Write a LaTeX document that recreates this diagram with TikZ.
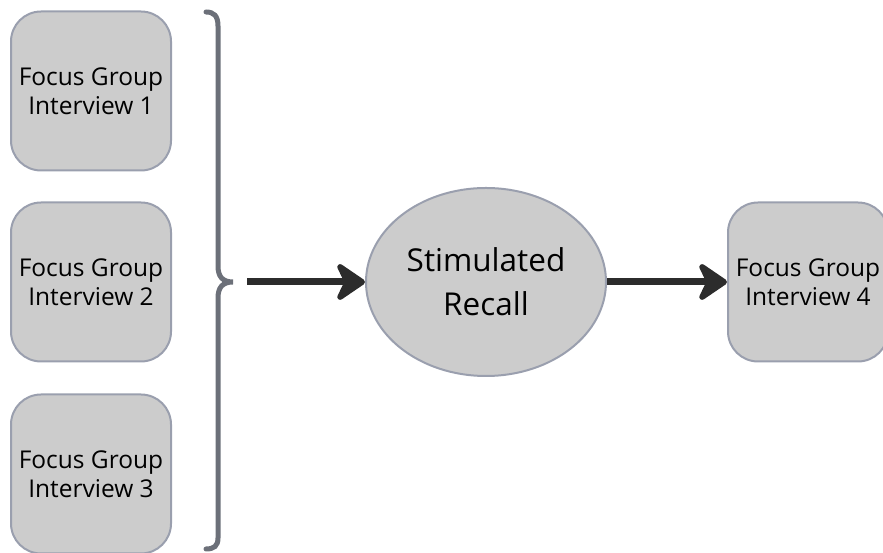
\documentclass[tikz,border=0pt]{standalone}
\usepackage{fontspec}
\setmainfont{Open Sans}
\usetikzlibrary{positioning, arrows.meta, shapes.geometric}

\definecolor{boxfill}{HTML}{CCCCCC}
\definecolor{boxline}{HTML}{9A9FAE}
\definecolor{braceline}{HTML}{6C7079}
\definecolor{arrowline}{HTML}{2C2C2C}

\tikzset{
	interview/.style={fill=boxfill,draw=boxline,line width=2pt,rounded corners=30pt,minimum width=160pt,minimum height=159pt,align=center,font=\fontsize{24.5}{29}\selectfont},
	recall/.style={ellipse,fill=boxfill,draw=boxline,line width=2pt,minimum width=240pt,minimum height=188pt,align=center,font=\fontsize{31.5}{44}\selectfont},
	flow/.style={-{Stealth[length=34pt,width=46pt,inset=11pt,round]},line width=7pt,draw=arrowline}
}

\begin{document}
\begin{tikzpicture}[x=1pt,y=1pt]
	\useasboundingbox (0,0) rectangle (883,553);
	\node (fg1) at (91,462) [interview] {Focus Group\\Interview 1};
	\node (fg2) at (91,271) [interview] {Focus Group\\Interview 2};
	\node (fg3) at (91,79) [interview] {Focus Group\\Interview 3};
	\node (stim) at (486,271) [recall] {Stimulated\\Recall};
	\node (fg4) at (808,271) [interview] {Focus Group\\Interview 4};

	%brace
	\draw[braceline,line width=5pt,line cap=round]
		(206,541) .. controls (214,541) and (218,537) .. (218,527)
		-- (218,287) .. controls (218,277) and (222,271) .. (233,271)
		.. controls (222,271) and (218,265) .. (218,255)
		-- (218,15) .. controls (218,7) and (214,4) .. (206,4);
	\coordinate (bracetip) at (247,271);

	\draw[flow] (bracetip) -- (stim);
	\draw[flow] (stim) -- (fg4);
\end{tikzpicture}
\end{document}
